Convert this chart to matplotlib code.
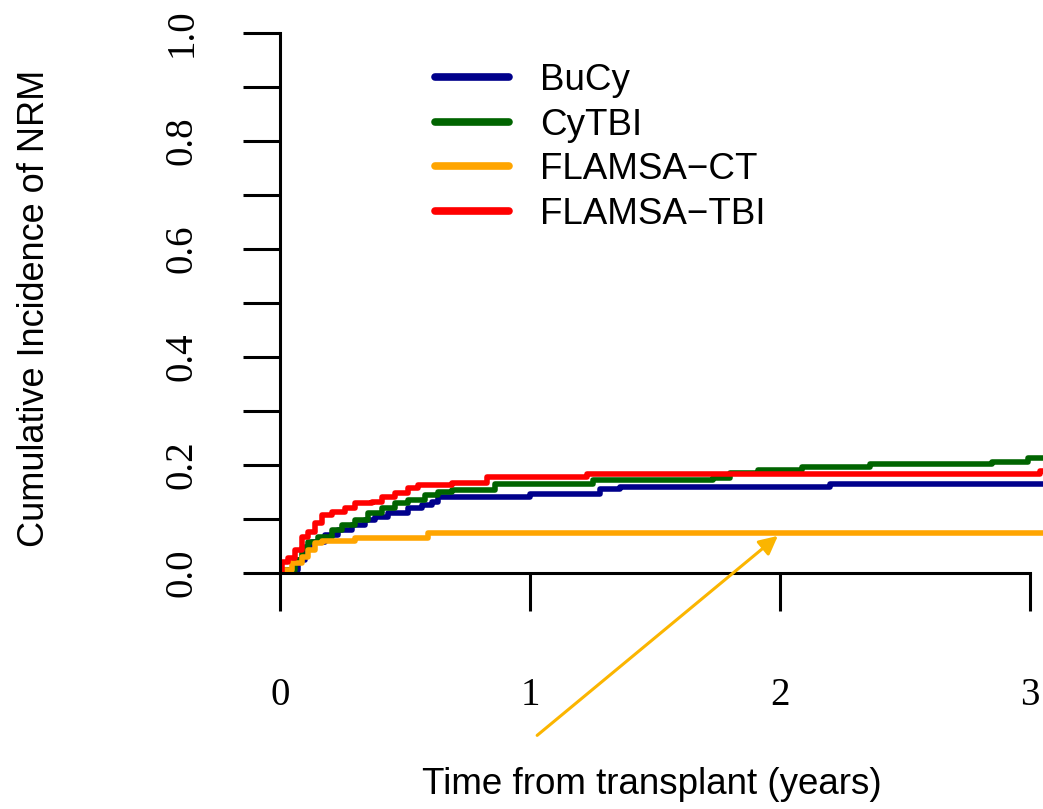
import matplotlib
matplotlib.use("Agg")
import matplotlib.pyplot as plt
import numpy as np

# cumulative incidence curves (step functions)
bucy_t = [0, 0.032, 0.072, 0.10, 0.128, 0.18, 0.232, 0.288, 0.34, 0.38, 0.432, 0.512, 0.568, 0.608, 0.632,
          1.0, 1.28, 1.36, 2.2, 3.06]
bucy_y = [0, 0.006, 0.024, 0.048, 0.057, 0.070, 0.080, 0.089, 0.098, 0.104, 0.111, 0.120, 0.126, 0.131, 0.141,
          0.146, 0.156, 0.159, 0.165, 0.165]

cytbi_t = [0, 0.02, 0.06, 0.088, 0.112, 0.152, 0.208, 0.248, 0.30, 0.352, 0.408, 0.46, 0.512, 0.58, 0.632, 0.688,
           0.86, 1.252, 1.73, 1.80, 1.91, 2.09, 2.36, 2.85, 2.99, 3.06]
cytbi_y = [0, 0.006, 0.024, 0.046, 0.057, 0.067, 0.080, 0.089, 0.098, 0.111, 0.120, 0.130, 0.135, 0.144, 0.150, 0.154,
           0.165, 0.172, 0.176, 0.185, 0.191, 0.196, 0.202, 0.206, 0.213, 0.213]

flct_t = [0, 0.008, 0.048, 0.088, 0.112, 0.14, 0.168, 0.30, 0.592, 3.06]
flct_y = [0, 0.006, 0.019, 0.030, 0.043, 0.056, 0.059, 0.065, 0.074, 0.074]

fltbi_t = [0, 0.008, 0.032, 0.06, 0.088, 0.112, 0.14, 0.168, 0.208, 0.26, 0.30, 0.368, 0.408, 0.46, 0.512, 0.552,
           0.688, 0.828, 1.228, 3.04, 3.06]
fltbi_y = [0, 0.020, 0.028, 0.043, 0.067, 0.076, 0.093, 0.107, 0.113, 0.120, 0.130, 0.131, 0.141, 0.148, 0.157, 0.163,
           0.167, 0.178, 0.183, 0.188, 0.188]

names = ["BuCy", "CyTBI", "FLAMSA\u2212CT", "FLAMSA\u2212TBI"]
colors = ["#00008B", "#006400", "#FFA500", "#FF0000"]

fig = plt.figure(figsize=(10.43, 8.09), dpi=100)
ax = fig.add_axes([280 / 1043, (809 - 573) / 809, (1043 - 280) / 1043, 540 / 809])

series = [(bucy_t, bucy_y), (cytbi_t, cytbi_y), (flct_t, flct_y), (fltbi_t, fltbi_y)]
for (t, y), name, c in zip(series, names, colors):
    ax.plot(t, y, drawstyle="steps-post", color=c, lw=4, label=name)

ax.set_xlim(0, 763 / 250)
ax.set_ylim(0, 1)

for s in ["top", "right"]:
    ax.spines[s].set_visible(False)
ax.spines["left"].set_bounds(0, 1)
ax.spines["bottom"].set_bounds(0, 3)
ax.spines["left"].set_linewidth(2.2)
ax.spines["bottom"].set_linewidth(2.2)

yt = np.round(np.arange(0, 1.01, 0.1), 1)
ax.set_yticks(yt)
ax.set_yticklabels([f"{v:.1f}" if i % 2 == 0 else "" for i, v in enumerate(yt)])
ax.set_xticks([0, 1, 2, 3])
ax.set_xticklabels(["0", "1", "2", "3"])
ax.tick_params(axis="y", length=27, width=2.2, pad=30, labelrotation=90, labelsize=28)
ax.tick_params(axis="x", length=27, width=2.2, pad=48, labelsize=28)
for lab in ax.get_xticklabels() + ax.get_yticklabels():
    lab.set_family("Liberation Serif")
for lab in ax.get_yticklabels():
    lab.set_va("center")

ax.set_ylabel("Cumulative Incidence of NRM", family="Liberation Sans", fontsize=26, va="center")
ax.yaxis.set_label_coords(35 / 1043, (809 - 308) / 809, transform=fig.transFigure)
ax.set_xlabel("Time from transplant (years)", family="Liberation Sans", fontsize=26.5, va="center")
ax.xaxis.set_label_coords(652 / 1043, (809 - 785) / 809, transform=fig.transFigure)

leg = ax.legend(loc="upper left", bbox_to_anchor=(435 / 1043, (809 - 63) / 809),
                bbox_transform=fig.transFigure, frameon=False, borderpad=0, borderaxespad=0,
                handlelength=2.0, handletextpad=0.85, labelspacing=0.26,
                prop={"family": "Liberation Sans", "size": 26.5})
for h in leg.get_lines():
    h.set_linewidth(5.5)
    h.set_solid_capstyle("round")

# arrow pointing at the FLAMSA-CT curve
ax.annotate("", xy=(2.0, 0.072), xytext=(1.02, -0.304),
            arrowprops=dict(arrowstyle="-|>", color="#FBB500", lw=2.2, mutation_scale=28),
            annotation_clip=False)

fig.savefig("out.png", dpi=100)
